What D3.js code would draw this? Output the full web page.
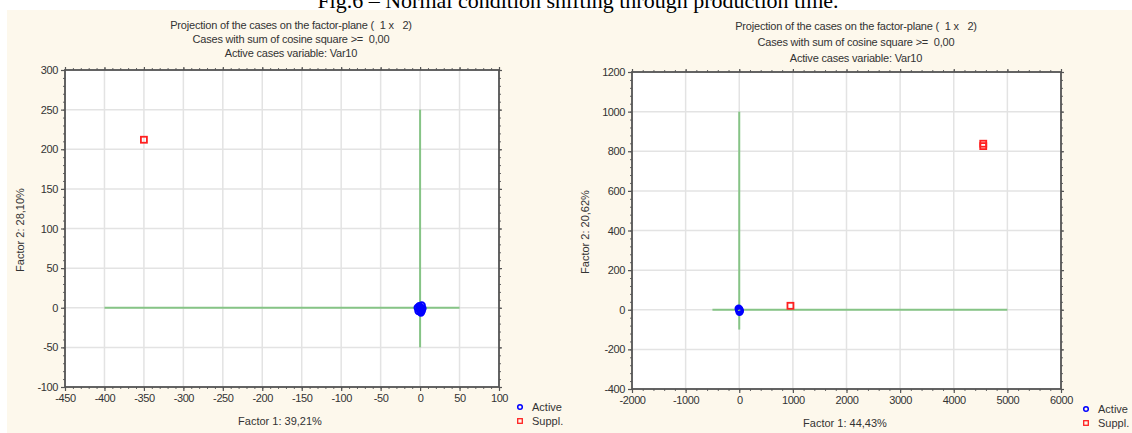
<!DOCTYPE html>
<meta charset="utf-8">
<title>Factor plane projections</title>
<script src="https://cdn.jsdelivr.net/npm/d3@7"></script>
<style>
  body { margin: 0; background: #fff; }
  text { font-family: "Liberation Sans", Arial, sans-serif; fill: #333; white-space: pre; }
  .caption { font-family: "Liberation Serif", "Times New Roman", serif; fill: #000; }
</style>
<body>
<svg width="1132" height="433"></svg>
<script>

  // caption + panel titles
  const caption = 'Fig.6 \u2013 Normal condition shifting through production time.'
  const titleLines = [
    'Projection of the cases on the factor-plane (  1 x   2)',
    'Cases with sum of cosine square >=  0,00',
    'Active cases variable: Var10'
  ]
  const legendLabels = ['Active', 'Suppl.']

  // left panel
  const leftXTicks = [-450, -400, -350, -300, -250, -200, -150, -100, -50, 0, 50, 100]
  const leftYTicks = [-100, -50, 0, 50, 100, 150, 200, 250, 300]
  const leftXTitle = 'Factor 1: 39,21%'
  const leftYTitle = 'Factor 2: 28,10%'
  const leftAxisH = [-400, 50]   // green horizontal line extent
  const leftAxisV = [-50, 250]   // green vertical line extent
  const leftActiveX = [-1, 2, 3, 0, -2, 1, -3, 2, 0]
  const leftActiveY = [2, 3, -1, -3, -4, -6, 0, -4, 0]
  const leftSupplX = [-350]
  const leftSupplY = [212]

  // right panel
  const rightXTicks = [-2000, -1000, 0, 1000, 2000, 3000, 4000, 5000, 6000]
  const rightYTicks = [-400, -200, 0, 200, 400, 600, 800, 1000, 1200]
  const rightXTitle = 'Factor 1: 44,43%'
  const rightYTitle = 'Factor 2: 20,62%'
  const rightAxisH = [-500, 5000]
  const rightAxisV = [-100, 1000]
  const rightActiveX = [0, 10, -10, 5]
  const rightActiveY = [0, -5, 5, -10]
  const rightSupplX = [955, 4550, 4550]
  const rightSupplY = [20, 826, 838]

  const svg = d3.select('svg')

  // background
  svg.append('rect').attr('x', 7).attr('y', 10).attr('width', 1125).attr('height', 423)
    .attr('fill', '#fdf8ec')

  svg.append('text').attr('class', 'caption')
    .attr('x', 578).attr('y', 8)
    .attr('text-anchor', 'middle')
    .style('font-size', '22px')
    .text(caption)

  const drawPanel = p => {
    const x = d3.scaleLinear().domain(d3.extent(p.xTicks)).range(p.xRange),
          y = d3.scaleLinear().domain(d3.extent(p.yTicks)).range(p.yRange)

    const [x0, x1] = p.xRange, [y0, y1] = p.yRange
    const g = svg.append('g')

    // plot area
    g.append('rect').attr('x', x0).attr('y', y1)
      .attr('width', x1 - x0).attr('height', y0 - y1).attr('fill', '#fff')

    // grid
    g.selectAll('.gx').data(p.xTicks).join('line')
      .attr('x1', d => x(d)).attr('x2', d => x(d)).attr('y1', y0).attr('y2', y1)
      .attr('stroke', '#e3e3e3').attr('stroke-width', 1.5)
    g.selectAll('.gy').data(p.yTicks).join('line')
      .attr('y1', d => y(d)).attr('y2', d => y(d)).attr('x1', x0).attr('x2', x1)
      .attr('stroke', '#e3e3e3').attr('stroke-width', 1.5)

    // green factor axes
    g.append('line')
      .attr('x1', x(p.axisH[0])).attr('x2', x(p.axisH[1])).attr('y1', y(0)).attr('y2', y(0))
      .attr('stroke', '#86c486').attr('stroke-width', 2)
    g.append('line')
      .attr('x1', x(0)).attr('x2', x(0)).attr('y1', y(p.axisV[0])).attr('y2', y(p.axisV[1]))
      .attr('stroke', '#86c486').attr('stroke-width', 2)

    // minor ticks (5 per interval) on all four sides
    const xs = p.xTicks[1] - p.xTicks[0], ys = p.yTicks[1] - p.yTicks[0]
    const xMinor = d3.range(p.xTicks[0], p.xTicks[p.xTicks.length - 1], xs / 5)
    const yMinor = d3.range(p.yTicks[0], p.yTicks[p.yTicks.length - 1], ys / 5)
    const minor = (axis, scale, vals, tr) => g.append('g').attr('transform', tr)
      .call(axis(scale).tickValues(vals).tickSize(2).tickFormat(''))
      .call(a => a.select('.domain').remove())
      .selectAll('line').attr('stroke', '#666')
    minor(d3.axisBottom, x, xMinor, `translate(0,${y0})`)
    minor(d3.axisTop, x, xMinor, `translate(0,${y1})`)
    minor(d3.axisLeft, y, yMinor, `translate(${x0},0)`)
    minor(d3.axisRight, y, yMinor, `translate(${x1},0)`)

    // major ticks + labels
    const styleAxis = a => {
      a.select('.domain').remove()
      a.selectAll('line').attr('stroke', '#555').attr('stroke-width', 1.2)
      a.selectAll('text').style('font-size', '11px').style('letter-spacing', '-0.4px')
        .attr('fill', '#2e2e2e')
    }
    g.append('g').attr('transform', `translate(0,${y0})`)
      .call(d3.axisBottom(x).tickValues(p.xTicks).tickSize(4).tickPadding(3).tickFormat(d => String(d)))
      .call(styleAxis)
    g.append('g').attr('transform', `translate(${x0},0)`)
      .call(d3.axisLeft(y).tickValues(p.yTicks).tickSize(4).tickPadding(3).tickFormat(d => String(d)))
      .call(styleAxis)
    g.append('g').attr('transform', `translate(0,${y1})`)
      .call(d3.axisTop(x).tickValues(p.xTicks).tickSize(3).tickFormat(''))
      .call(styleAxis)
    g.append('g').attr('transform', `translate(${x1},0)`)
      .call(d3.axisRight(y).tickValues(p.yTicks).tickSize(3).tickFormat(''))
      .call(styleAxis)

    // frame
    g.append('rect').attr('x', x0).attr('y', y1)
      .attr('width', x1 - x0).attr('height', y0 - y1)
      .attr('fill', 'none').attr('stroke', '#555').attr('stroke-width', 1.8)

    // points
    g.selectAll('.act').data(p.activeX).join('circle')
      .attr('cx', d => x(d)).attr('cy', (d, i) => y(p.activeY[i])).attr('r', 3.2)
      .attr('fill', 'none').attr('stroke', '#0000ff').attr('stroke-width', 2)
    g.selectAll('.sup').data(p.supplX).join('rect')
      .attr('x', d => x(d) - 3).attr('y', (d, i) => y(p.supplY[i]) - 3)
      .attr('width', 6).attr('height', 6)
      .attr('fill', 'none').attr('stroke', '#ff2020').attr('stroke-width', 1.8)

    // titles
    g.selectAll('.title').data(titleLines).join('text')
      .attr('x', p.titleX).attr('y', (d, i) => p.titleY[i])
      .attr('text-anchor', 'middle').style('font-size', '11px').style('letter-spacing', '-0.2px')
      .text(d => d)
    g.append('text').attr('x', p.xTitlePos[0]).attr('y', p.xTitlePos[1])
      .attr('text-anchor', 'middle').style('font-size', '11px').text(p.xTitle)
    g.append('text')
      .attr('transform', `translate(${p.yTitlePos[0]},${p.yTitlePos[1]}) rotate(-90)`)
      .attr('text-anchor', 'middle').style('font-size', '11px').text(p.yTitle)

    // legend
    const [lx, ly] = p.legendPos
    g.append('circle').attr('cx', lx).attr('cy', ly).attr('r', 2.3)
      .attr('fill', 'none').attr('stroke', '#0000ff').attr('stroke-width', 1.5)
    g.append('rect').attr('x', lx - 2.3).attr('y', ly + 14 - 2.3).attr('width', 4.6).attr('height', 4.6)
      .attr('fill', 'none').attr('stroke', '#ff2020').attr('stroke-width', 1.3)
    g.selectAll('.leg').data(legendLabels).join('text')
      .attr('x', lx + 12).attr('y', (d, i) => ly + 4 + i * 14)
      .style('font-size', '11px').text(d => d)
  }

  drawPanel({
    xTicks: leftXTicks, yTicks: leftYTicks,
    xRange: [65, 499], yRange: [387, 70],
    axisH: leftAxisH, axisV: leftAxisV,
    activeX: leftActiveX, activeY: leftActiveY,
    supplX: leftSupplX, supplY: leftSupplY,
    titleX: 291, titleY: [29, 43, 57],
    xTitle: leftXTitle, xTitlePos: [280, 425],
    yTitle: leftYTitle, yTitlePos: [24, 230],
    legendPos: [520, 407]
  })

  drawPanel({
    xTicks: rightXTicks, yTicks: rightYTicks,
    xRange: [632, 1061], yRange: [389, 72],
    axisH: rightAxisH, axisV: rightAxisV,
    activeX: rightActiveX, activeY: rightActiveY,
    supplX: rightSupplX, supplY: rightSupplY,
    titleX: 856, titleY: [30, 46, 62],
    xTitle: rightXTitle, xTitlePos: [845, 427],
    yTitle: rightYTitle, yTitlePos: [589, 232],
    legendPos: [1086, 409]
  })

</script>
</body>
